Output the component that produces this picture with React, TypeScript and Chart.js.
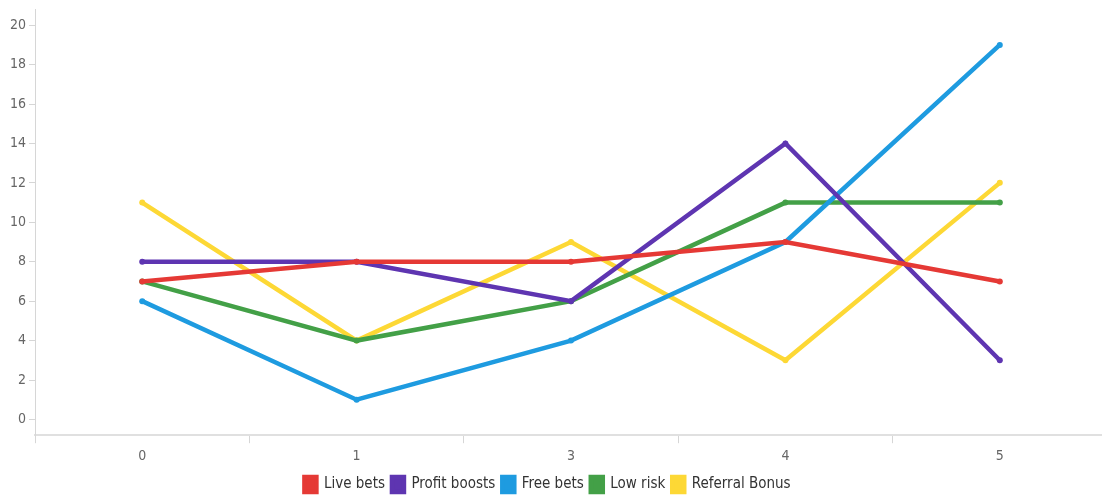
import React, { useEffect, useRef } from "react";
import { Chart, registerables } from "chart.js";

Chart.register(...registerables);

const categories = ["0", "1", "3", "4", "5"];
const liveBets = [7, 8, 8, 9, 7];
const profitBoosts = [8, 8, 6, 14, 3];
const freeBets = [6, 1, 4, 9, 19];
const lowRisk = [7, 4, 6, 11, 11];
const referralBonus = [11, 4, 9, 3, 12];
const yTicks = [0, 2, 4, 6, 8, 10, 12, 14, 16, 18, 20];

const FONT = "'Liberation Sans Narrow', 'DejaVu Sans Condensed', 'Roboto', sans-serif";

const shiftLegend = {
  id: "shiftLegend",
  afterLayout(chart: any) {
    if (chart.legend) {
      chart.legend.left -= 11;
      chart.legend.right -= 11;
    }
  },
};

export default function App() {
  const ref = useRef<HTMLCanvasElement | null>(null);
  useEffect(() => {
    document.body.style.margin = "0";
    document.body.style.overflow = "hidden";
    const mk = (label: string, data: number[], color: string) => ({
      label,
      data,
      borderColor: color,
      backgroundColor: color,
      borderWidth: 4.5,
      pointRadius: 3,
      pointHoverRadius: 3,
      pointBorderWidth: 0,
      tension: 0,
      fill: false,
    });
    const chart = new Chart(ref.current!, {
      type: "line",
      data: {
        labels: categories,
        datasets: [
          mk("Live bets", liveBets, "#e53935"),
          mk("Profit boosts", profitBoosts, "#5e35b1"),
          mk("Free bets", freeBets, "#1e9be0"),
          mk("Low risk", lowRisk, "#43a047"),
          mk("Referral Bonus", referralBonus, "#fdd835"),
        ],
      },
      plugins: [shiftLegend],
      options: {
        animation: false,
        responsive: false,
        layout: { padding: { top: 4, left: 7, right: 0, bottom: 0 } },
        plugins: {
          legend: {
            position: "bottom",
            labels: {
              boxWidth: 12,
              boxHeight: 15,
              padding: 7,
              color: "#333",
              font: { family: FONT, size: 15 },
            },
          },
          tooltip: { enabled: false },
        },
        scales: {
          x: {
            type: "category",
            offset: true,
            grid: {
              offset: true,
              drawOnChartArea: false,
              drawTicks: true,
              tickLength: 8,
              color: "#d6d6d6",
            },
            border: { color: "#e0e0e0", width: 2 },
            ticks: { color: "#666", font: { family: FONT, size: 14 }, padding: 5 },
          },
          y: {
            min: -0.8,
            max: 20.8,
            afterBuildTicks: (axis: any) => {
              axis.ticks = yTicks.map((v) => ({ value: v }));
            },
            grid: {
              drawOnChartArea: false,
              drawTicks: true,
              tickLength: 6,
              color: "#d6d6d6",
            },
            border: { color: "#d6d6d6", width: 1 },
            ticks: { color: "#666", font: { family: FONT, size: 14 }, padding: 3 },
          },
        },
      },
    } as any);
    return () => chart.destroy();
  }, []);
  return (
    <div style={{ position: "absolute", left: 0, top: 0, width: 1102, height: 498, overflow: "hidden" }}>
      <canvas ref={ref} width={1110} height={504} style={{ display: "block", marginTop: -2 }} />
    </div>
  );
}
